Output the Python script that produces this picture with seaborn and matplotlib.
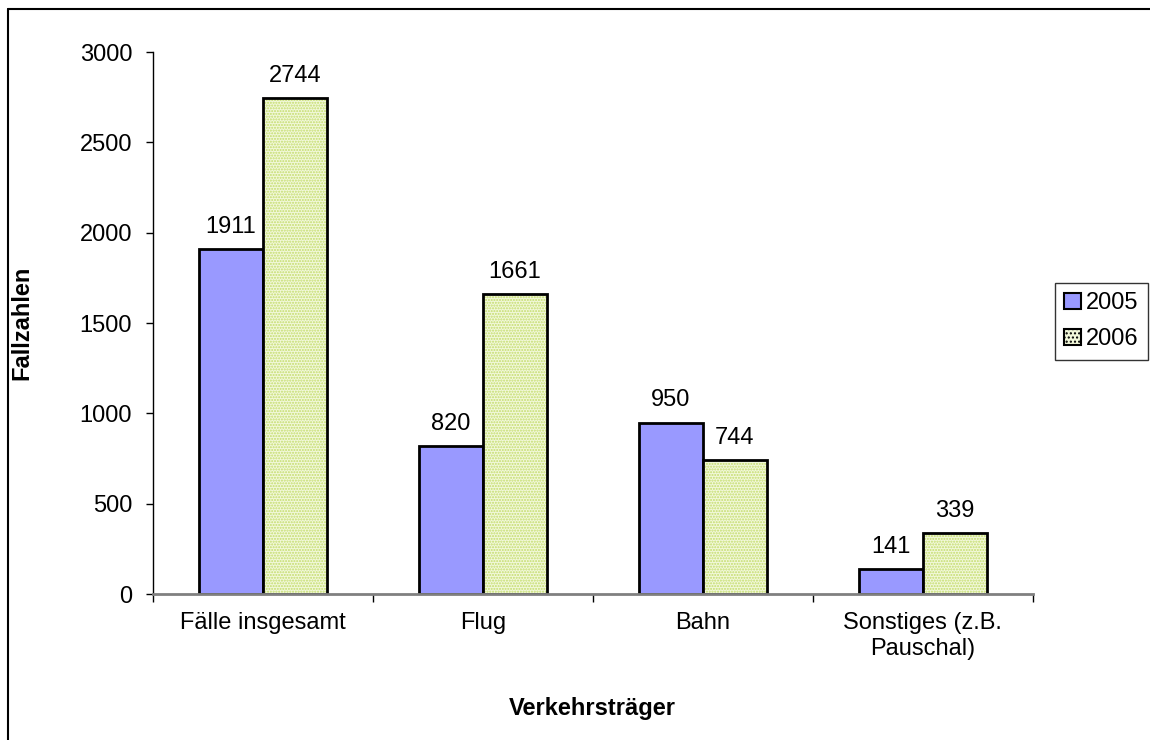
import matplotlib
matplotlib.use("Agg")
import matplotlib.pyplot as plt
from matplotlib.patches import Rectangle
from matplotlib.lines import Line2D
from matplotlib.ticker import FixedLocator
import seaborn as sns
import pandas as pd

categories = ["Fälle insgesamt", "Flug", "Bahn", "Sonstiges (z.B.\nPauschal)"]
years = ["2005", "2006"]
values_2005 = [1911, 820, 950, 141]
values_2006 = [2744, 1661, 744, 339]

df = pd.DataFrame({
    "Verkehrsträger": categories * 2,
    "Jahr": [years[0]] * len(categories) + [years[1]] * len(categories),
    "Fallzahlen": values_2005 + values_2006,
})

sns.set_theme(style="white")
plt.rcParams['font.family'] = ['Liberation Sans', 'DejaVu Sans']
plt.rcParams['text.color'] = 'black'
plt.rcParams['axes.labelcolor'] = 'black'
plt.rcParams['xtick.color'] = 'black'
plt.rcParams['ytick.color'] = 'black'

FS = 17

fig = plt.figure(figsize=(11.5, 7.4), dpi=100)
ax = fig.add_axes([0.133, 0.197, 0.765, 0.7327])

c2005 = "#9999FF"
c2006 = "#F2F8DA"
sns.barplot(data=df, x="Verkehrsträger", y="Fallzahlen", hue="Jahr",
            palette=[c2005, c2006], width=0.58, ax=ax, legend=False,
            edgecolor="black", linewidth=2, saturation=1)

# hatch for 2006 bars
for p in ax.patches[len(categories):2 * len(categories)]:
    p.set_hatch("......")
    p.set_edgecolor("#C3DC6A")
    p.set_linewidth(0)
    ax.add_patch(Rectangle(p.get_xy(), p.get_width(), p.get_height(),
                           fill=False, edgecolor="black", linewidth=2, zorder=p.get_zorder() + 0.1))

for cont in ax.containers:
    ax.bar_label(cont, padding=8, fontsize=FS, color="black")

ax.set_ylim(0, 3000)
ax.set_xlim(-0.5, len(categories) - 0.5)
ax.set_yticks([0, 500, 1000, 1500, 2000, 2500, 3000])
ax.tick_params(axis="y", which="major", length=5, width=1, color="black", direction="out",
               labelsize=FS, pad=10, left=True)
ax.tick_params(axis="x", which="major", length=0, labelsize=FS, pad=13)
ax.xaxis.set_minor_locator(FixedLocator([i - 0.5 for i in range(len(categories) + 1)]))
ax.tick_params(axis="x", which="minor", length=6, width=1, color="black", direction="out", bottom=True)

for s in ["top", "right"]:
    ax.spines[s].set_visible(False)
ax.spines["left"].set_color("black")
ax.spines["left"].set_linewidth(1)
ax.spines["bottom"].set_color("#808080")
ax.spines["bottom"].set_linewidth(2)

ax.set_xlabel("Verkehrsträger", fontsize=FS, fontweight="bold", labelpad=27)
ax.set_ylabel("Fallzahlen", fontsize=FS, fontweight="bold", labelpad=33)

handles = [Rectangle((0, 0), 1, 1, facecolor=c2005, edgecolor="black", linewidth=1.5),
           Rectangle((0, 0), 1, 1, facecolor=c2006, edgecolor="black", linewidth=1.5, hatch="....")]
leg = fig.legend(handles, years, loc="center left", bbox_to_anchor=(0.9174, 0.566),
                 fontsize=FS, frameon=True, fancybox=False, edgecolor="black",
                 handlelength=0.7, handleheight=0.7, handletextpad=0.2, borderpad=0.4,
                 labelspacing=0.6, borderaxespad=0)
leg.get_frame().set_linewidth(1)

# partial outer border (top and left visible)
fig.add_artist(Line2D([0.007, 1.0], [0.988, 0.988], transform=fig.transFigure, color="black", lw=1.5))
fig.add_artist(Line2D([0.007, 0.007], [0.0, 0.988], transform=fig.transFigure, color="black", lw=1.5))

fig.savefig("out.png", dpi=100, facecolor="white")
